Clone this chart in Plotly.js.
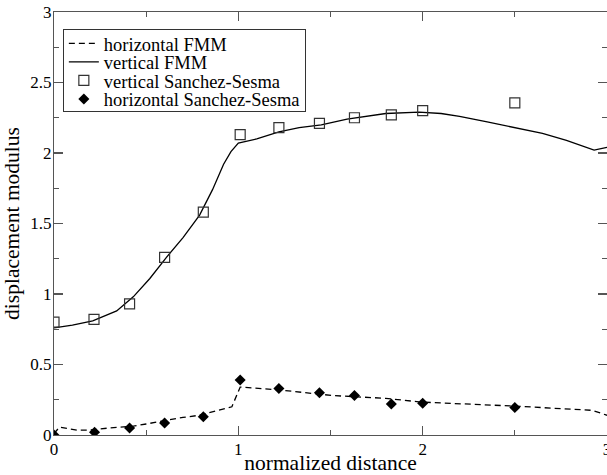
<!DOCTYPE html>
<html>
<head>
<meta charset="utf-8">
<script src="https://cdn.plot.ly/plotly-3.0.1.min.js"></script>
<style>
html,body{margin:0;padding:0;background:#fff;}
#chart{width:607px;height:475px;}
#chart text{font-family:'Liberation Serif','Times New Roman',serif !important;}
</style>
</head>
<body>
<div id="chart"></div>
<script>
// horizontal FMM (dashed)
const hFmmX = [0, 0.03, 0.125, 0.195, 0.30, 0.43, 0.50, 0.61, 0.70, 0.79, 0.88, 0.965, 1.01, 1.22, 1.51, 1.80, 1.98, 2.05, 2.50, 2.80, 2.92, 3.0];
const hFmmY = [0.01, 0.056, 0.035, 0.035, 0.05, 0.063, 0.078, 0.106, 0.125, 0.14, 0.17, 0.20, 0.34, 0.32, 0.28, 0.26, 0.235, 0.23, 0.205, 0.185, 0.175, 0.14];
// vertical FMM (solid)
const vFmmX = [0, 0.10, 0.21, 0.34, 0.43, 0.52, 0.61, 0.70, 0.79, 0.86, 0.92, 0.96, 1.0, 1.03, 1.10, 1.22, 1.33, 1.45, 1.59, 1.80, 1.98, 2.10, 2.20, 2.35, 2.51, 2.65, 2.78, 2.93, 3.0];
const vFmmY = [0.76, 0.78, 0.81, 0.88, 0.98, 1.11, 1.26, 1.40, 1.56, 1.74, 1.92, 2.01, 2.07, 2.08, 2.10, 2.15, 2.18, 2.20, 2.24, 2.28, 2.29, 2.28, 2.26, 2.22, 2.18, 2.14, 2.09, 2.02, 2.04];
// vertical Sanchez-Sesma (open squares)
const vSsX = [0, 0.217, 0.41, 0.60, 0.81, 1.01, 1.22, 1.44, 1.63, 1.83, 2.0, 2.5];
const vSsY = [0.80, 0.82, 0.93, 1.26, 1.58, 2.13, 2.18, 2.21, 2.25, 2.27, 2.30, 2.355];
// horizontal Sanchez-Sesma (filled diamonds)
const hSsX = [0, 0.22, 0.41, 0.60, 0.81, 1.01, 1.22, 1.44, 1.63, 1.83, 2.0, 2.5];
const hSsY = [0, 0.02, 0.05, 0.085, 0.13, 0.39, 0.33, 0.30, 0.28, 0.22, 0.225, 0.195];

const serif = 'Liberation Serif';

const traces = [
  {x: hFmmX, y: hFmmY, mode: 'lines', name: 'horizontal FMM',
   line: {color: '#000', width: 1.3, dash: '6px,4px'}},
  {x: vFmmX, y: vFmmY, mode: 'lines', name: 'vertical FMM',
   line: {color: '#000', width: 1.3}},
  {x: vSsX, y: vSsY, mode: 'markers', name: 'vertical Sanchez-Sesma',
   marker: {symbol: 'square-open', size: 10, color: '#333', line: {width: 1.2, color: '#333'}}},
  {x: hSsX, y: hSsY, mode: 'markers', name: 'horizontal Sanchez-Sesma',
   marker: {symbol: 'diamond', size: 8.5, color: '#000'}}
];

const axisCommon = {
  showgrid: false, zeroline: false, showline: true, linecolor: '#555', linewidth: 1.2,
  ticks: 'inside', ticklen: 9, tickcolor: '#555', tickwidth: 1.2, mirror: 'ticks',
  tickfont: {family: serif, size: 17, color: '#000'}, automargin: false,
  ticklabeloverflow: 'allow', ticklabelstandoff: -2
};

const layout = {
  width: 607, height: 475,
  margin: {l: 54, r: 0, t: 12, b: 40},
  paper_bgcolor: '#fff', plot_bgcolor: '#fff',
  font: {family: serif, size: 17, color: '#000'},
  showlegend: true,
  legend: {x: 0.016, y: 0.96, xanchor: 'left', yanchor: 'top',
    bgcolor: '#fff', bordercolor: '#333', borderwidth: 1,
    font: {family: serif, size: 18.5, color: '#000'}, tracegroupgap: 0},
  xaxis: Object.assign({}, axisCommon, {
    range: [0, 3], tickvals: [0, 1, 2, 3], ticktext: ['0', '1', '2', '3'],
    minor: {tickvals: [0.5, 1.5, 2.5], ticks: 'inside', ticklen: 5, tickcolor: '#555'},
    title: {text: 'normalized distance', font: {family: serif, size: 21.5, color: '#000'}, standoff: 7}
  }),
  yaxis: Object.assign({}, axisCommon, {
    range: [0, 3], tickvals: [0, 0.5, 1, 1.5, 2, 2.5, 3], ticktext: ['0', '0.5', '1', '1.5', '2', '2.5', '3'],
    minor: {tickvals: [0.25, 0.75, 1.25, 1.75, 2.25, 2.75], ticks: 'inside', ticklen: 5, tickcolor: '#555'},
    title: {text: 'displacement modulus', font: {family: serif, size: 21.5, color: '#000'}, standoff: 5}
  })
};

Plotly.newPlot('chart', traces, layout, {displayModeBar: false, staticPlot: true}).then(function () {
  // tighten legend row spacing to match the reference
  const rows = Array.from(document.querySelectorAll('#chart .legend .traces'));
  if (rows.length < 2) return;
  const parse = g => {
    const m = /translate\(\s*([-\d.]+)[ ,]+([-\d.]+)\s*\)/.exec(g.getAttribute('transform') || '');
    return m ? [parseFloat(m[1]), parseFloat(m[2])] : null;
  };
  const p0 = parse(rows[0]), p1 = parse(rows[1]);
  if (!p0 || !p1) return;
  const oldStep = p1[1] - p0[1];
  const newStep = 18.5;
  const lift = 5;
  const startY = p0[1] - lift;
  rows.forEach((g, i) => {
    const p = parse(g);
    g.setAttribute('transform', 'translate(' + p[0] + ',' + (startY + i * newStep) + ')');
  });
  const shrink = lift + (rows.length - 1) * (oldStep - newStep) + 7;
  document.querySelectorAll('#chart .legend rect.bg').forEach(r => {
    const h = parseFloat(r.getAttribute('height'));
    r.setAttribute('height', h - shrink);
  });
});
</script>
</body>
</html>
